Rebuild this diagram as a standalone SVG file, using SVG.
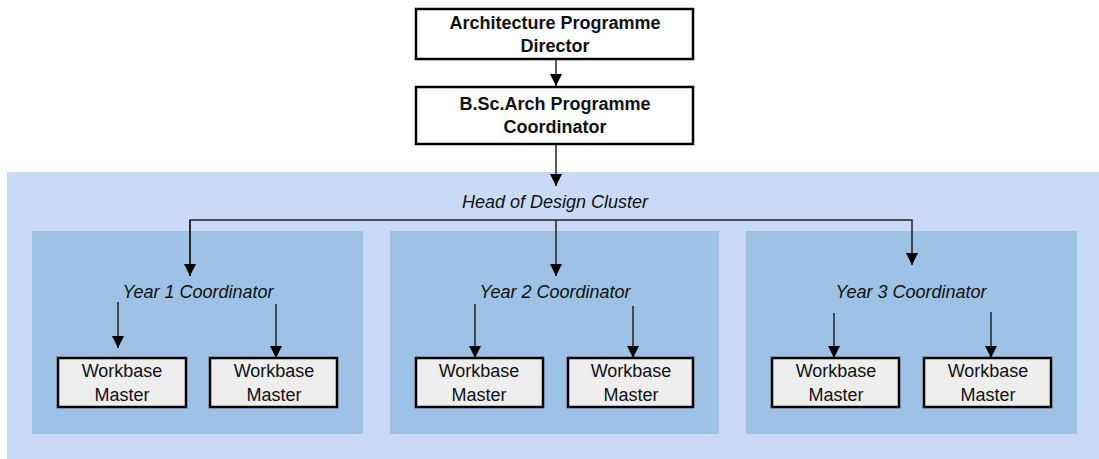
<svg xmlns="http://www.w3.org/2000/svg" width="1099" height="459" viewBox="0 0 1099 459">
<defs>
<style>
.box{fill:#ffffff;stroke:#000;stroke-width:2.5}
.wb{fill:#eeeeee;stroke:#000;stroke-width:2.5}
.bt{font-family:"Liberation Sans",Arial,sans-serif;font-size:18px;font-weight:bold;fill:#111;text-anchor:middle}
.t{font-family:"Liberation Sans",Arial,sans-serif;font-size:18px;fill:#111;text-anchor:middle}
.it{font-family:"Liberation Sans",Arial,sans-serif;font-size:18px;font-style:italic;fill:#111;text-anchor:middle}
.c{fill:none;stroke:#222;stroke-width:1.5}
</style>
<marker id="ah" markerUnits="userSpaceOnUse" markerWidth="12" markerHeight="12" refX="10" refY="5" orient="auto" viewBox="0 0 10 10">
<path d="M0,0 L10,5 L0,10 Z" fill="#000"/>
</marker>
</defs>
<g id="background">
<rect x="7" y="172" width="1092" height="287" fill="#c9daf6"/>
<rect x="32" y="231" width="331" height="203" fill="#9dc2e6"/>
<rect x="390" y="231" width="329" height="203" fill="#9dc2e6"/>
<rect x="746" y="231" width="331" height="203" fill="#9dc2e6"/>
</g>
<g id="connectors">
<path class="c" d="M556,59 V86" marker-end="url(#ah)"/>
<path class="c" d="M556,144 V186" marker-end="url(#ah)"/>
<path class="c" d="M190,276 V220 H912 V265" marker-end="url(#ah)"/>
<path class="c" d="M190,220 V276" marker-end="url(#ah)"/>
<path class="c" d="M556,220 V276" marker-end="url(#ah)"/>
<path class="c" d="M118,302 V348" marker-end="url(#ah)"/>
<path class="c" d="M276,304 V358" marker-end="url(#ah)"/>
<path class="c" d="M475,304 V358" marker-end="url(#ah)"/>
<path class="c" d="M633,306 V358" marker-end="url(#ah)"/>
<path class="c" d="M834,313 V358" marker-end="url(#ah)"/>
<path class="c" d="M991,312 V358" marker-end="url(#ah)"/>
</g>
<g id="director">
<rect class="box" x="416" y="9" width="277" height="50"/>
<text class="bt" x="555" y="29">Architecture Programme</text>
<text class="bt" x="555" y="52">Director</text>
</g>
<g id="coordinator">
<rect class="box" x="416" y="87" width="277" height="57"/>
<text class="bt" x="555" y="110">B.Sc.Arch Programme</text>
<text class="bt" x="555" y="133">Coordinator</text>
</g>
<g id="head">
<text class="it" x="555" y="208">Head of Design Cluster</text>
</g>
<g id="year1">
<text class="it" x="198" y="298">Year 1 Coordinator</text>
</g>
<g id="year2">
<text class="it" x="555" y="298">Year 2 Coordinator</text>
</g>
<g id="year3">
<text class="it" x="911" y="298">Year 3 Coordinator</text>
</g>
<g id="wb1a"><rect class="wb" x="58" y="358" width="128" height="49"/><text class="t" x="122" y="377">Workbase</text><text class="t" x="122" y="401">Master</text></g>
<g id="wb1b"><rect class="wb" x="210" y="358" width="127" height="49"/><text class="t" x="274" y="377">Workbase</text><text class="t" x="274" y="401">Master</text></g>
<g id="wb2a"><rect class="wb" x="416" y="358" width="127" height="49"/><text class="t" x="479" y="377">Workbase</text><text class="t" x="479" y="401">Master</text></g>
<g id="wb2b"><rect class="wb" x="568" y="358" width="125" height="49"/><text class="t" x="631" y="377">Workbase</text><text class="t" x="631" y="401">Master</text></g>
<g id="wb3a"><rect class="wb" x="772" y="358" width="127" height="49"/><text class="t" x="836" y="377">Workbase</text><text class="t" x="836" y="401">Master</text></g>
<g id="wb3b"><rect class="wb" x="924" y="358" width="127" height="49"/><text class="t" x="988" y="377">Workbase</text><text class="t" x="988" y="401">Master</text></g>
</svg>
